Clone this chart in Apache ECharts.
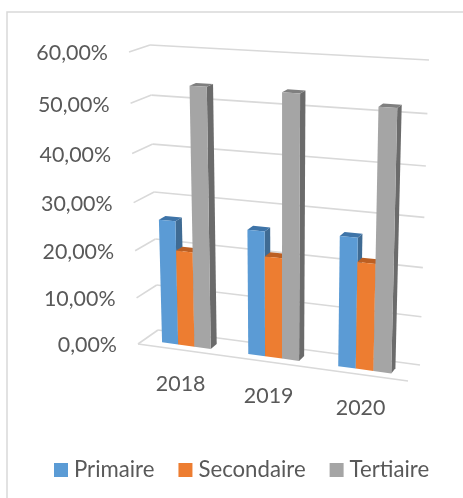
<!DOCTYPE html>
<html>
<head>
<meta charset="utf-8">
<style>
  html, body { margin: 0; padding: 0; background: #fff; }
  #chart { width: 463px; height: 498px; }
</style>
</head>
<body>
<div id="chart"></div>
<script src="https://cdn.jsdelivr.net/npm/echarts@6/dist/echarts.min.js"></script>
<script>
// valeurs
const categories = ["2018", "2019", "2020"];
const primaire = [26.2, 26.0, 26.6];
const secondaire = [20.1, 20.9, 21.8];
const tertiaire = [53.7, 53.6, 52.1];
const yTicks = [0, 10, 20, 30, 40, 50, 60];

const TEXT = "#595959";
const GRID = "#D9D9D9";
const FONT = "Lato";
const FONT_SIZE = 21.4;
const LEGEND_SIZE = 22.2;

// faux 3D : coins de la boite (avant / fond), u = categorie, v = valeur
const FRONT = { bl: [138, 344], br: [408, 381], tl: [129, 52], tr: [416, 69] };
const BACK = { bl: [158, 330], br: [420, 365], tl: [150, 45], tr: [429, 60] };
const PERSP = 0.066;
const BAR_W = 0.19 / 3;
const BAR_D0 = 0.3;
const BAR_D1 = 0.63;

function warp(t) {
  return t / (1 + PERSP * (1 - t));
}

function lerp(a, b, t) {
  return a + (b - a) * t;
}

function onPlane(c, u, v, k) {
  const bottom = lerp(c.bl[k], c.br[k], u);
  const top = lerp(c.tl[k], c.tr[k], u);
  return lerp(bottom, top, v);
}

function project(u, v, d) {
  const wu = warp(u);
  const wv = warp(v);
  return [
    lerp(onPlane(FRONT, wu, wv, 0), onPlane(BACK, wu, wv, 0), d),
    lerp(onPlane(FRONT, wu, wv, 1), onPlane(BACK, wu, wv, 1), d)
  ];
}

// passe d'un point du repere (echelles ECharts) a u / v
function toUnit(params, api, cat, val) {
  const p = api.coord([cat, val]);
  const cs = params.coordSys;
  return [(p[0] - cs.x) / cs.width, (cs.y + cs.height - p[1]) / cs.height];
}

function poly(points, fill) {
  return { type: "polygon", shape: { points: points }, style: { fill: fill } };
}

function line(a, b) {
  return {
    type: "line",
    shape: { x1: a[0], y1: a[1], x2: b[0], y2: b[1] },
    style: { stroke: GRID, lineWidth: 1.6 }
  };
}

function label(text, x, y, align) {
  return {
    type: "text",
    style: {
      text: text,
      x: x,
      y: y,
      align: align,
      verticalAlign: "middle",
      fill: TEXT,
      fontFamily: FONT,
      fontSize: FONT_SIZE
    }
  };
}

function barSeries(name, values, slot, front, side, top) {
  return {
    type: "custom",
    name: name,
    coordinateSystem: "cartesian2d",
    itemStyle: { color: front },
    silent: true,
    data: values.map((v, i) => [categories[i], v]),
    renderItem(params, api) {
      const unit = toUnit(params, api, api.value(0), api.value(1));
      const u0 = unit[0] + (slot - 1.5) * BAR_W;
      const u1 = u0 + BAR_W;
      const v = unit[1];
      return {
        type: "group",
        children: [
          poly([project(u1, 0, BAR_D0), project(u1, 0, BAR_D1), project(u1, v, BAR_D1), project(u1, v, BAR_D0)], side),
          poly([project(u0, v, BAR_D0), project(u1, v, BAR_D0), project(u1, v, BAR_D1), project(u0, v, BAR_D1)], top),
          poly([project(u0, 0, BAR_D0), project(u1, 0, BAR_D0), project(u1, v, BAR_D0), project(u0, v, BAR_D0)], front)
        ]
      };
    }
  };
}

const wallSeries = {
  type: "custom",
  coordinateSystem: "cartesian2d",
  silent: true,
  data: yTicks.map(t => [categories[0], t]),
  renderItem(params, api) {
    const v = toUnit(params, api, categories[0], api.value(1))[1];
    const a = project(0, v, 0);
    const b = project(0, v, 1);
    const children = [line(a, b), line(b, project(1, v, 1))];
    if (api.value(1) === 0) {
      children.push(line(a, project(1, 0, 0)));
    }
    const txt = api.value(1).toFixed(2).replace(".", ",") + "%";
    children.push(label(txt, a[0] - 21, a[1] + 1.5, "right"));
    return { type: "group", children: children };
  }
};

const categorySeries = {
  type: "custom",
  coordinateSystem: "cartesian2d",
  silent: true,
  data: categories.map(c => [c, 0]),
  renderItem(params, api) {
    const u = toUnit(params, api, api.value(0), 0)[0];
    const p = project(u, 0, 0);
    return label(categories[api.value(0)], p[0], p[1] + 34, "center");
  }
};

const chart = echarts.init(document.getElementById("chart"));
chart.setOption({
  animation: false,
  backgroundColor: "#fff",
  graphic: [
    {
      type: "rect",
      silent: true,
      z: -1,
      shape: { x: 7, y: 12, width: 600, height: 600 },
      style: { fill: "none", stroke: GRID, lineWidth: 1.5 }
    }
  ],
  grid: { left: 0, right: 0, top: 0, bottom: 0 },
  xAxis: { type: "category", data: categories, show: false },
  yAxis: { type: "value", min: 0, max: 60, show: false },
  legend: {
    data: ["Primaire", "Secondaire", "Tertiaire"],
    left: 54,
    top: 459,
    padding: 0,
    icon: "rect",
    itemWidth: 14,
    itemHeight: 14,
    itemGap: 24,
    selectedMode: false,
    textStyle: { color: TEXT, fontFamily: FONT, fontSize: LEGEND_SIZE, padding: [0, 0, 0, 1] }
  },
  series: [
    wallSeries,
    categorySeries,
    barSeries("Primaire", primaire, 0, "#5B9BD5", "#3F6B93", "#3E74A8"),
    barSeries("Secondaire", secondaire, 1, "#ED7D31", "#B5612A", "#BC5F22"),
    barSeries("Tertiaire", tertiaire, 2, "#A5A5A5", "#6B6B6B", "#7F7F7F")
  ]
});
</script>
</body>
</html>
